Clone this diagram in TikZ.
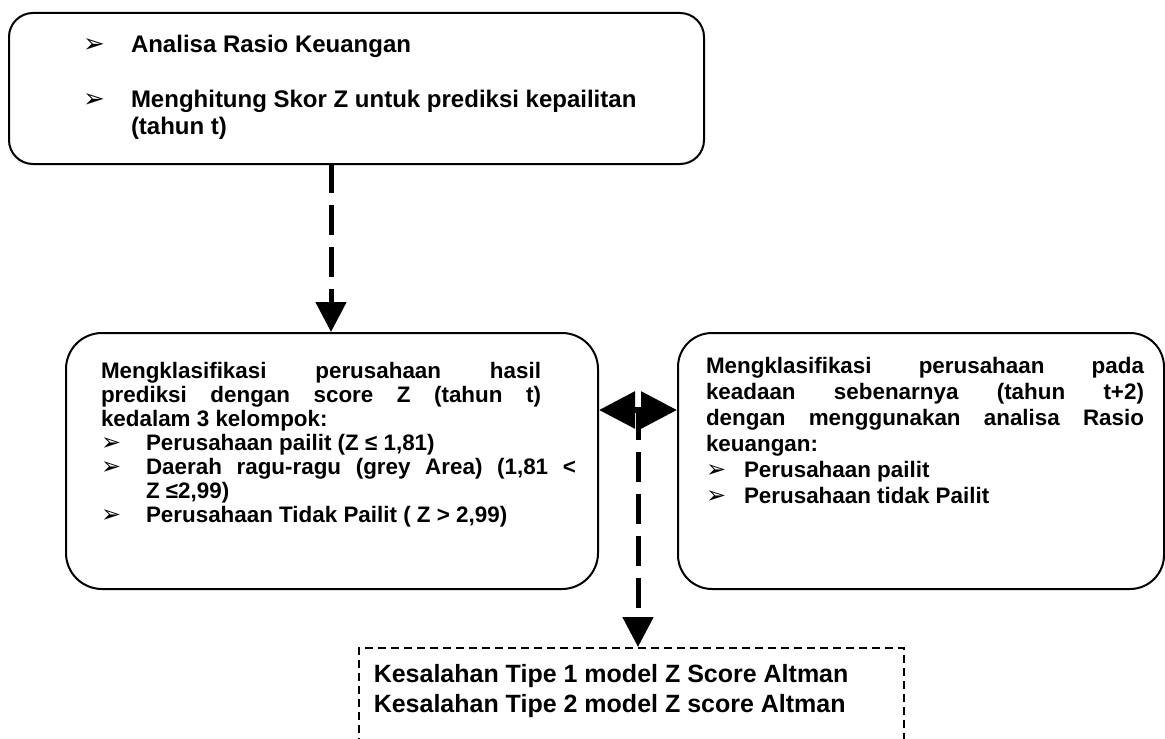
\documentclass[tikz,border=0pt]{standalone}
\usepackage{fontspec}
\setmainfont{Liberation Sans}
\newfontfamily\symfont{DejaVu Sans}
\usetikzlibrary{arrows.meta,positioning}

\newcommand{\bul}[1][12]{{\symfont\fontsize{#1}{#1}\selectfont ➢}}
\newcommand{\boxtext}[5]{\parbox[c][#2][t]{#1}{\setlength{\leftskip}{#3}\vspace*{#4}#5}}

\tikzset{
    roundbox/.style={draw, line width=1pt, rounded corners=#1, inner sep=0pt, anchor=north west, font=\bfseries},
    dashbox/.style={draw, line width=0.75pt, dash pattern=on 4pt off 2.5pt, inner sep=0pt, anchor=north west, font=\bfseries},
    dasharrow/.style={line width=2.5pt, dash pattern=on 15pt off 6pt, -{Triangle[length=15pt,width=15pt]}},
    dblarrow/.style={line width=3pt, {Triangle[length=18pt,width=18pt]}-{Triangle[length=18pt,width=18pt]}},
}

\begin{document}
\begin{tikzpicture}[x=0.5pt,y=-0.5pt]
    \useasboundingbox (0,0) rectangle (1165,738);

    \node[roundbox=12pt] (analisa) at (8,12) {\boxtext{347.5pt}{75.5pt}{37pt}{11pt}{\fontsize{12}{13.5}\selectfont
        \makebox[24pt][l]{\bul[13]}Analisa Rasio Keuangan\\[14pt]
        \makebox[24pt][l]{\bul[13]}Menghitung Skor Z untuk prediksi kepailitan\\
        \hspace*{24pt}(tahun t)}};

    \node[roundbox=18pt] (prediksi) at (65,332) {\boxtext{266pt}{128pt}{17.5pt}{14.8pt}{\fontsize{11.2}{12}\selectfont
        \makebox[220pt][s]{Mengklasifikasi perusahaan hasil}\\
        \makebox[220pt][s]{prediksi dengan score Z (tahun t)}\\
        kedalam 3 kelompok:\\
        \makebox[22.5pt][l]{\bul}Perusahaan pailit (Z ≤ 1,81)\\
        \makebox[22.5pt][l]{\bul}\makebox[215pt][s]{Daerah ragu-ragu (grey Area) (1,81 <}\\
        \hspace*{22.5pt}Z ≤2,99)\\
        \makebox[22.5pt][l]{\bul}Perusahaan Tidak Pailit ( Z > 2,99)}};

    \node[roundbox=17pt] (fakta) at (677,332) {\boxtext{243pt}{128pt}{14pt}{12.3pt}{\fontsize{11.2}{13}\selectfont
        \makebox[219pt][s]{Mengklasifikasi perusahaan pada}\\
        \makebox[219pt][s]{keadaan sebenarnya (tahun t+2)}\\
        \makebox[219pt][s]{dengan menggunakan analisa Rasio}\\
        keuangan:\\
        \makebox[19pt][l]{\bul}Perusahaan pailit\\
        \makebox[19pt][l]{\bul}Perusahaan tidak Pailit}};

    \node[dashbox] (kesalahan) at (358,647) {\boxtext{272.5pt}{60pt}{7.5pt}{8.4pt}{\fontsize{12.5}{15}\selectfont
        Kesalahan Tipe 1 model Z Score Altman\\
        Kesalahan Tipe 2 model Z score Altman}};

    \coordinate (turun) at (331,163);
    \coordinate (tengah) at (638,410);

    \draw[dasharrow] (turun) -- (turun |- prediksi.north);
    \draw[dblarrow] (prediksi.east |- tengah) -- (fakta.west |- tengah);
    \draw[dasharrow] (tengah) -- (tengah |- kesalahan.north);
\end{tikzpicture}
\end{document}
